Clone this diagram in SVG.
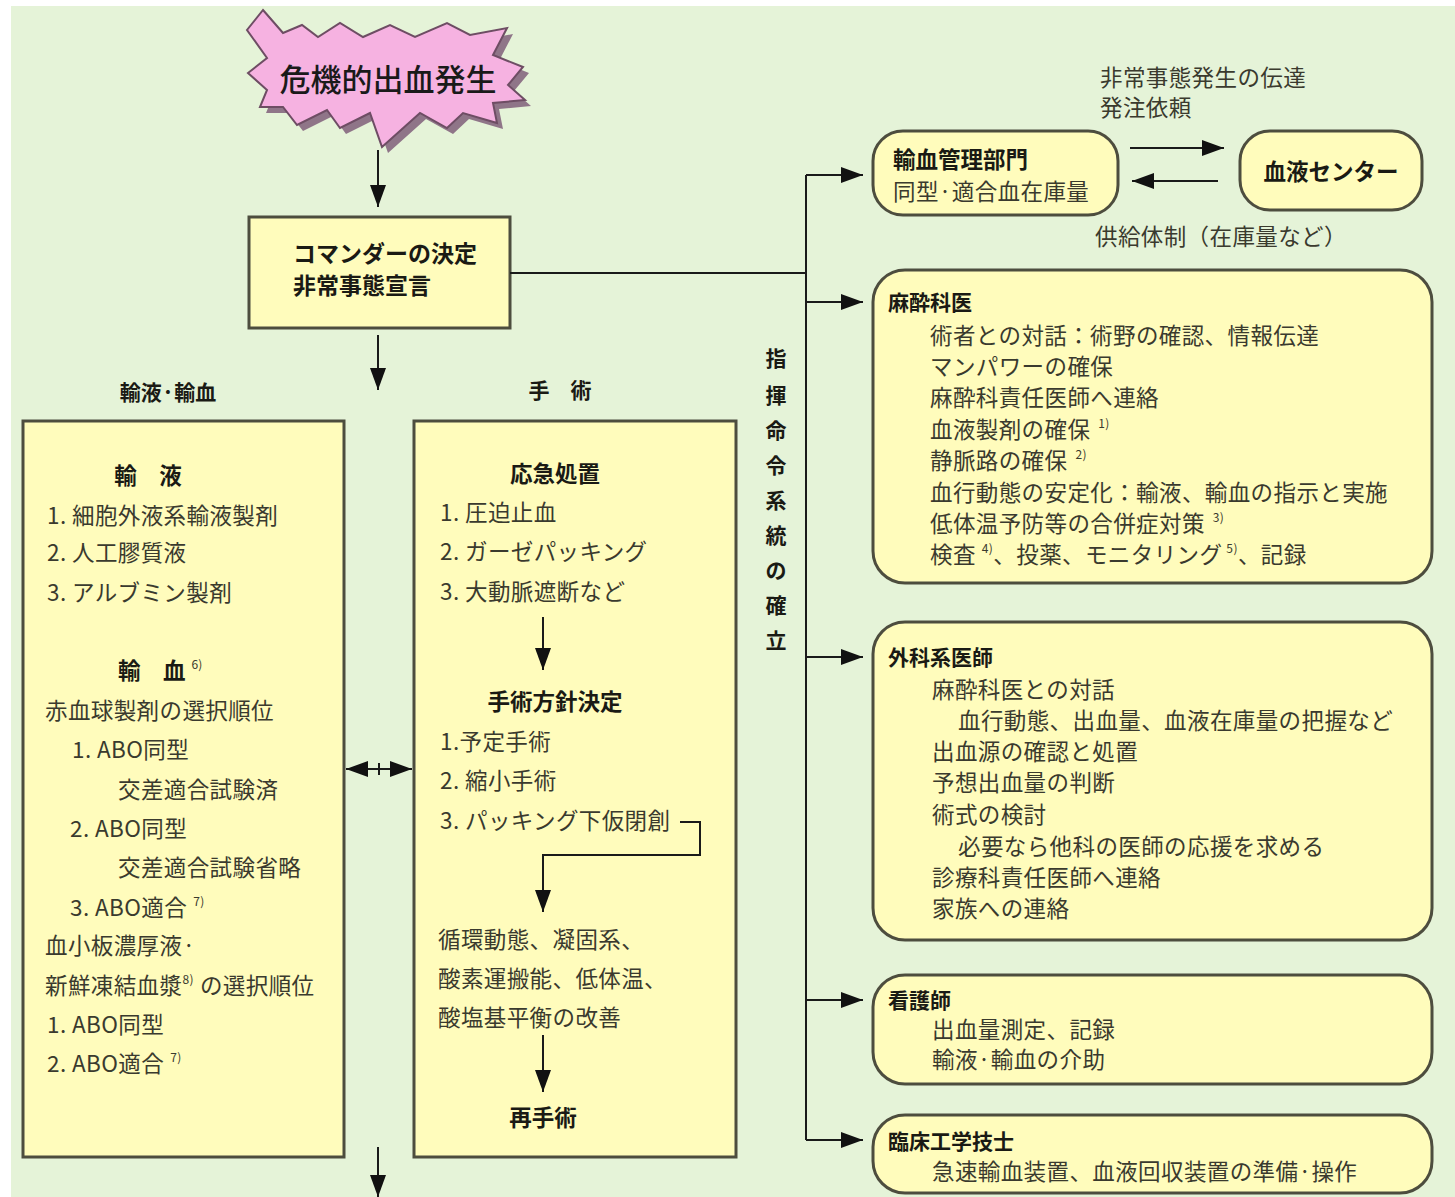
<svg xmlns="http://www.w3.org/2000/svg" width="1455" height="1197" viewBox="0 0 1455 1197">
<style>
text{font-family:"Noto Sans CJK JP","Noto Sans",sans-serif;fill:#3a3a2e;font-size:22.5px;letter-spacing:0.4px}
.b{font-weight:bold;fill:#1a1a14;letter-spacing:0}
.box{fill:#fffcbc;stroke:#4d4d3e;stroke-width:3}
.ln{stroke:#1a1a1a;stroke-width:2;fill:none}
.sup{font-size:12px}
</style>
<defs>
<marker id="ah" markerWidth="24" markerHeight="16" refX="22" refY="8" orient="auto" markerUnits="userSpaceOnUse">
<path d="M0,0 L22,8 L0,16 Z" fill="#111"/>
</marker>
<marker id="ahs" markerWidth="24" markerHeight="16" refX="2" refY="8" orient="auto" markerUnits="userSpaceOnUse">
<path d="M24,0 L2,8 L24,16 Z" fill="#111"/>
</marker>
</defs>
<rect x="0" y="0" width="1455" height="1197" fill="#ffffff"/>
<rect x="11" y="6" width="1444" height="1191" fill="#e5f3d8"/>

<g id="crisis">
<polygon transform="translate(6,6)" fill="#8f7588" points="263,10 283,33 302,25 318,37 340,23 363,37 390,25 415,37 447,23 470,35 507,28 493,55 523,67 508,85 525,100 493,103 497,123 463,113 447,128 420,113 382,147 370,113 340,128 327,110 297,125 283,107 260,107 267,90 248,73 267,58 247,30"/>
<polygon fill="#f6b2e1" stroke="#6e4d64" stroke-width="2" points="263,10 283,33 302,25 318,37 340,23 363,37 390,25 415,37 447,23 470,35 507,28 493,55 523,67 508,85 525,100 493,103 497,123 463,113 447,128 420,113 382,147 370,113 340,128 327,110 297,125 283,107 260,107 267,90 248,73 267,58 247,30"/>
<text x="388" y="91" text-anchor="middle" style="font-size:31px;font-weight:500;fill:#1a1a1a;letter-spacing:0">危機的出血発生</text>
</g>

<g id="commander">
<rect class="box" x="249" y="217" width="261" height="111"/>
<text class="b" x="293" y="262" style="font-size:23px">コマンダーの決定</text>
<text class="b" x="293" y="294" style="font-size:23px">非常事態宣言</text>
</g>

<g id="label-fluid"><text class="b" x="168" y="400" text-anchor="middle" style="font-size:21px">輸液·輸血</text></g>
<g id="label-surgery"><text class="b" x="560" y="398" text-anchor="middle" style="font-size:21px" xml:space="preserve">手　術</text></g>

<g id="fluid">
<rect class="box" x="23" y="421" width="321" height="736"/>
<text class="b" x="148" y="484" text-anchor="middle" xml:space="preserve">輸　液</text>
<text x="47" y="524">1. 細胞外液系輸液製剤</text>
<text x="47" y="561">2. 人工膠質液</text>
<text x="47" y="601">3. アルブミン製剤</text>
<text class="b" x="118" y="679" xml:space="preserve">輸　血<tspan class="sup" dx="6" dy="-10" style="font-weight:normal;fill:#3a3a2e">6)</tspan></text>
<text x="45" y="719">赤血球製剤の選択順位</text>
<text x="72" y="758">1. ABO同型</text>
<text x="118" y="798">交差適合試験済</text>
<text x="70" y="837">2. ABO同型</text>
<text x="118" y="876">交差適合試験省略</text>
<text x="70" y="916">3. ABO適合<tspan class="sup" dx="6" dy="-10">7)</tspan></text>
<text x="45" y="954">血小板濃厚液·</text>
<text x="45" y="994">新鮮凍結血漿<tspan class="sup" dy="-10">8)</tspan><tspan dx="6" dy="10">の選択順位</tspan></text>
<text x="47" y="1033">1. ABO同型</text>
<text x="47" y="1072">2. ABO適合<tspan class="sup" dx="6" dy="-10">7)</tspan></text>
</g>

<g id="surgery">
<rect class="box" x="414" y="421" width="322" height="736"/>
<text class="b" x="555" y="482" text-anchor="middle">応急処置</text>
<text x="440" y="521">1. 圧迫止血</text>
<text x="440" y="560">2. ガーゼパッキング</text>
<text x="440" y="600">3. 大動脈遮断など</text>
<text class="b" x="555" y="710" text-anchor="middle">手術方針決定</text>
<text x="440" y="750">1.予定手術</text>
<text x="440" y="789">2. 縮小手術</text>
<text x="440" y="829">3. パッキング下仮閉創</text>
<text x="438" y="948">循環動態、凝固系、</text>
<text x="438" y="987">酸素運搬能、低体温、</text>
<text x="438" y="1026">酸塩基平衡の改善</text>
<text class="b" x="543" y="1126" text-anchor="middle">再手術</text>
</g>

<g id="chain-label">
<text class="b" x="776" y="366" text-anchor="middle" style="font-size:21px">指</text>
<text class="b" x="776" y="403" text-anchor="middle" style="font-size:21px">揮</text>
<text class="b" x="776" y="438" text-anchor="middle" style="font-size:21px">命</text>
<text class="b" x="776" y="473" text-anchor="middle" style="font-size:21px">令</text>
<text class="b" x="776" y="508" text-anchor="middle" style="font-size:21px">系</text>
<text class="b" x="776" y="543" text-anchor="middle" style="font-size:21px">統</text>
<text class="b" x="776" y="578" text-anchor="middle" style="font-size:21px">の</text>
<text class="b" x="776" y="613" text-anchor="middle" style="font-size:21px">確</text>
<text class="b" x="776" y="648" text-anchor="middle" style="font-size:21px">立</text>
</g>

<g id="bloodbank">
<rect class="box" x="873" y="131" width="245" height="84" rx="30"/>
<text class="b" x="893" y="168">輸血管理部門</text>
<text x="893" y="200">同型·適合血在庫量</text>
</g>
<g id="bloodcenter">
<rect class="box" x="1240" y="131" width="182" height="79" rx="30"/>
<text class="b" x="1331" y="180" text-anchor="middle">血液センター</text>
</g>
<g id="bc-labels">
<text x="1100" y="86">非常事態発生の伝達</text>
<text x="1100" y="116">発注依頼</text>
<text x="1095" y="245">供給体制（在庫量など）</text>
</g>

<g id="anesth">
<rect class="box" x="873" y="270" width="559" height="313" rx="32"/>
<text class="b" x="888" y="310" style="font-size:21px">麻酔科医</text>
<text x="930" y="344">術者との対話：術野の確認、情報伝達</text>
<text x="930" y="375">マンパワーの確保</text>
<text x="930" y="406">麻酔科責任医師へ連絡</text>
<text x="930" y="438">血液製剤の確保<tspan class="sup" dx="8" dy="-10">1)</tspan></text>
<text x="930" y="469">静脈路の確保<tspan class="sup" dx="8" dy="-10">2)</tspan></text>
<text x="930" y="501">血行動態の安定化：輸液、輸血の指示と実施</text>
<text x="930" y="532">低体温予防等の合併症対策<tspan class="sup" dx="8" dy="-10">3)</tspan></text>
<text x="930" y="563">検査<tspan class="sup" dx="6" dy="-10">4)</tspan><tspan dy="10">、投薬、モニタリング</tspan><tspan class="sup" dx="4" dy="-10">5)</tspan><tspan dy="10">、記録</tspan></text>
</g>

<g id="surgeon">
<rect class="box" x="873" y="622" width="559" height="318" rx="32"/>
<text class="b" x="888" y="665" style="font-size:21px">外科系医師</text>
<text x="932" y="698">麻酔科医との対話</text>
<text x="958" y="729">血行動態、出血量、血液在庫量の把握など</text>
<text x="932" y="760">出血源の確認と処置</text>
<text x="932" y="791">予想出血量の判断</text>
<text x="932" y="823">術式の検討</text>
<text x="958" y="855">必要なら他科の医師の応援を求める</text>
<text x="932" y="886">診療科責任医師へ連絡</text>
<text x="932" y="917">家族への連絡</text>
</g>

<g id="nurse">
<rect class="box" x="873" y="975" width="559" height="109" rx="32"/>
<text class="b" x="888" y="1008" style="font-size:21px">看護師</text>
<text x="932" y="1038">出血量測定、記録</text>
<text x="932" y="1068">輸液·輸血の介助</text>
</g>

<g id="ce">
<rect class="box" x="873" y="1115" width="559" height="78" rx="32"/>
<text class="b" x="888" y="1149" style="font-size:21px">臨床工学技士</text>
<text x="932" y="1180">急速輸血装置、血液回収装置の準備·操作</text>
</g>

<g id="connectors">
<line class="ln" x1="378" y1="150" x2="378" y2="207" marker-end="url(#ah)"/>
<line class="ln" x1="378" y1="335" x2="378" y2="390" marker-end="url(#ah)"/>
<line class="ln" x1="378" y1="1147" x2="378" y2="1197" marker-end="url(#ah)"/>
<line class="ln" x1="510" y1="273" x2="806" y2="273"/>
<line class="ln" x1="806" y1="175" x2="806" y2="1140"/>
<line class="ln" x1="806" y1="175" x2="863" y2="175" marker-end="url(#ah)"/>
<line class="ln" x1="806" y1="302" x2="863" y2="302" marker-end="url(#ah)"/>
<line class="ln" x1="806" y1="657" x2="863" y2="657" marker-end="url(#ah)"/>
<line class="ln" x1="806" y1="1000" x2="863" y2="1000" marker-end="url(#ah)"/>
<line class="ln" x1="806" y1="1140" x2="863" y2="1140" marker-end="url(#ah)"/>
<line class="ln" x1="1130" y1="148" x2="1224" y2="148" marker-end="url(#ah)"/>
<line class="ln" x1="1218" y1="181" x2="1132" y2="181" marker-end="url(#ah)"/>
<line class="ln" x1="346" y1="769" x2="412" y2="769" marker-start="url(#ahs)" marker-end="url(#ah)"/>
<line class="ln" x1="379" y1="763" x2="379" y2="775"/>
<line class="ln" x1="543" y1="617" x2="543" y2="670" marker-end="url(#ah)"/>
<path class="ln" d="M680,822 H700 V855 H543 V912" marker-end="url(#ah)"/>
<line class="ln" x1="543" y1="1035" x2="543" y2="1092" marker-end="url(#ah)"/>
</g>
</svg>
